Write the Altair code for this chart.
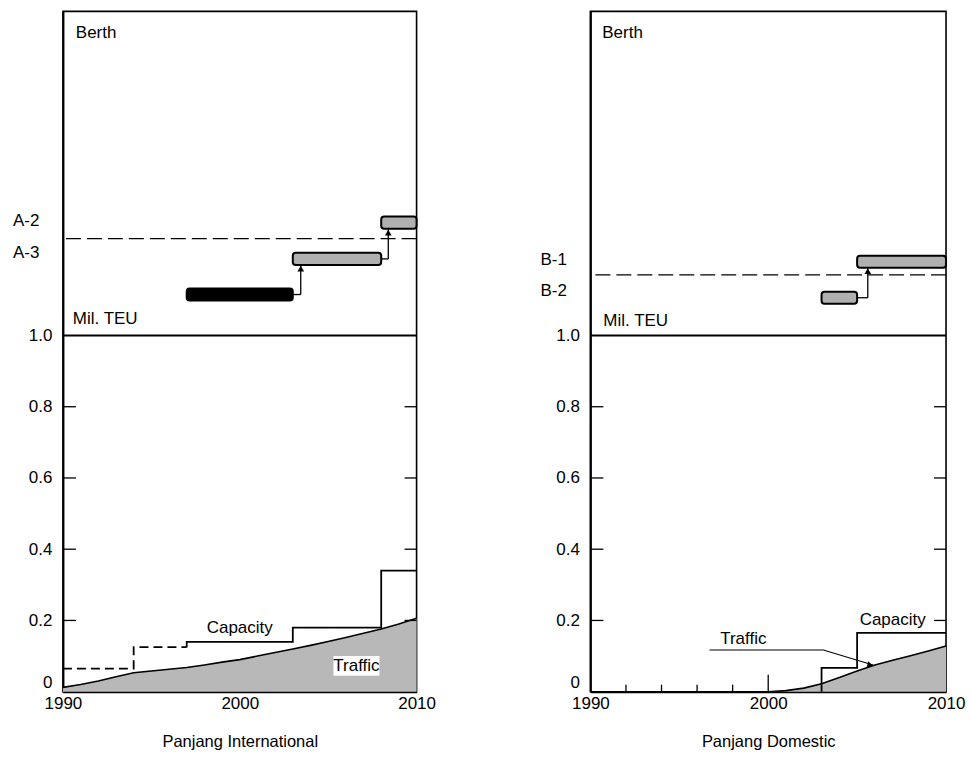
import altair as alt
import pandas as pd

FONT = "Liberation Sans, Arial, Helvetica, sans-serif"
HATCH = "#b8b8b8"
BAR_HATCH = "#b0b0b0"

# ---------------- Panjang International ----------------
intl_years = list(range(1990, 2011))
intl_traffic = [0.012, 0.02, 0.03, 0.042, 0.053, 0.058, 0.063, 0.068, 0.075, 0.083,
                0.09, 0.1, 0.11, 0.12, 0.13, 0.141, 0.152, 0.164, 0.176, 0.19, 0.206]
intl_cap_years = [1990, 1994, 1997, 1997, 1997, 2003, 2008, 2010]
intl_cap_values = [0.065, 0.125, 0.125, 0.125, 0.14, 0.18, 0.34, 0.34]
intl_cap_status = ["planned", "planned", "planned", "existing", "existing", "existing", "existing", "existing"]
intl_berth_names = ["", "A-3", "A-2"]
intl_berth_label_y = [None, 1.232, 1.322]
intl_berth_start = [1997, 2003, 2008]
intl_berth_end = [2003, 2008, 2010]
intl_berth_level = [1.115, 1.215, 1.317]
intl_berth_status = ["existing", "planned", "planned"]
intl_arrow_x = [2003.45, 2008.4]
intl_arrow_from = [1.115, 1.215]
intl_arrow_to = [1.199, 1.300]
intl_arrow_start = [2003, 2008]
intl_threshold = 1.272

# ---------------- Panjang Domestic ----------------
dom_years = list(range(2000, 2011))
dom_traffic = [0.0, 0.003, 0.01, 0.022, 0.04, 0.058, 0.075, 0.088, 0.101, 0.114, 0.128]
dom_cap_years = [2003, 2003, 2005, 2010]
dom_cap_values = [0.0, 0.067, 0.165, 0.165]
dom_cap_status = ["existing"] * 4
dom_berth_names = ["B-2", "B-1"]
dom_berth_label_y = [1.125, 1.212]
dom_berth_start = [2003, 2005]
dom_berth_end = [2005, 2010]
dom_berth_level = [1.106, 1.207]
dom_berth_status = ["planned", "planned"]
dom_arrow_x = [2005.6]
dom_arrow_from = [1.106]
dom_arrow_to = [1.192]
dom_arrow_start = [2005]
dom_threshold = 1.17

y_tick_values = [0.2, 0.4, 0.6, 0.8]
x_minor_ticks = [1992, 1994, 1996, 1998]

W_L, W_R, H = 354, 356, 681
YMAX = 1.91


def xenc(field, title=None):
    if title is not None:
        return alt.X(field, type="quantitative",
                     scale=alt.Scale(domain=[1990, 2010], nice=False, zero=False),
                     axis=alt.Axis(values=[1990, 2000, 2010], format="d", tickSize=0,
                                   domainWidth=2, domainColor="black", labelColor="black",
                                   labelFontSize=17, labelFont=FONT, labelPadding=4,
                                   labelOverlap=False, labelFlush=False, grid=False,
                                   title=title, titleFont=FONT, titleFontSize=16.5,
                                   titleFontWeight="normal", titleColor="black",
                                   titlePadding=22))
    return alt.X(field, type="quantitative")


def yenc(field, axis=False):
    if axis:
        return alt.Y(field, type="quantitative",
                     scale=alt.Scale(domain=[0, YMAX], nice=False),
                     axis=alt.Axis(values=[0, 0.2, 0.4, 0.6, 0.8, 1.0],
                                   labelExpr="datum.value == 0 ? '0' : format(datum.value, '.1f')",
                                   labelBaseline={"condition": {"test": "datum.value == 0",
                                                                "value": "bottom"},
                                                  "value": "middle"},
                                   tickSize=0, domainWidth=2, domainColor="black",
                                   labelColor="black", labelFontSize=17, labelFont=FONT,
                                   labelPadding=11, grid=False, title=None))
    return alt.Y(field, type="quantitative")


def panel(title, width, years, traffic, cap_years, cap_values, cap_status,
          b_names, b_label_y, b_start, b_end, b_level, b_status, a_x, a_from, a_to, a_start,
          threshold, bottom_ticks):
    tdf = pd.DataFrame({"year": years, "traffic": traffic})
    area = alt.Chart(tdf).mark_area(color=HATCH, opacity=1).encode(
        x=xenc("year", title), y=yenc("traffic", axis=True))
    tline = alt.Chart(tdf).mark_line(color="black", strokeWidth=1.6).encode(
        x=xenc("year"), y=yenc("traffic"))

    cdf = pd.DataFrame({"year": cap_years, "cap": cap_values, "status": cap_status,
                        "order": list(range(len(cap_years)))})
    cap = alt.Chart(cdf).mark_line(color="black", strokeWidth=1.8, interpolate="step-after").encode(
        x=xenc("year"), y=yenc("cap"), order="order:Q",
        detail="status:N",
        strokeDash=alt.StrokeDash("status:N", legend=None,
                                  scale=alt.Scale(domain=["planned", "existing"],
                                                  range=[[9, 5], [1, 0]])))

    bdf = pd.DataFrame({"name": b_names, "label_y": b_label_y, "start": b_start, "end": b_end,
                        "level": b_level, "status": b_status})
    bars = alt.Chart(bdf).transform_calculate(
        lo="datum.level - 0.017", hi="datum.level + 0.017"
    ).mark_rect(stroke="black", strokeWidth=2, cornerRadius=3).encode(
        x=xenc("start"), x2="end", y=yenc("lo"), y2="hi",
        fill=alt.Fill("status:N", legend=None,
                      scale=alt.Scale(domain=["existing", "planned"], range=["black", BAR_HATCH])))
    blabels = alt.Chart(bdf).transform_filter("datum.name != ''").mark_text(
        font=FONT, fontSize=17, align="left", baseline="middle", color="black"
    ).encode(x=alt.value(-50), y=yenc("label_y"), text="name:N")

    adf = pd.DataFrame({"x": a_x, "y0": a_from, "y1": a_to, "xs": a_start})
    a_h = alt.Chart(adf).mark_rule(color="black", strokeWidth=1.3).encode(
        x=xenc("xs"), x2="x", y=yenc("y0"))
    a_v = alt.Chart(adf).mark_rule(color="black", strokeWidth=1.3).encode(
        x=xenc("x"), y=yenc("y0"), y2="y1")
    a_head = alt.Chart(adf).mark_point(shape="triangle-up", filled=True, color="black",
                                        size=45, opacity=1, yOffset=4).encode(
        x=xenc("x"), y=yenc("y1"))

    thr = alt.Chart(pd.DataFrame({"v": [threshold]})).mark_rule(
        color="black", strokeWidth=1.3, strokeDash=[15, 6]).encode(y=yenc("v"))
    one = alt.Chart(pd.DataFrame({"v": [1.0]})).mark_rule(
        color="black", strokeWidth=1.8).encode(y=yenc("v"))

    tk = pd.DataFrame({"v": y_tick_values})
    lt = alt.Chart(tk).mark_rule(color="black", strokeWidth=1.3).encode(
        x=alt.value(0), x2=alt.value(13), y=yenc("v"))
    rt = alt.Chart(tk).mark_rule(color="black", strokeWidth=1.3).encode(
        x=alt.value(width - 12), x2=alt.value(width), y=yenc("v"))

    layers = [area, tline, cap, thr, one, a_h, a_v, a_head, bars, blabels, lt, rt]
    if bottom_ticks:
        bt = alt.Chart(pd.DataFrame({"year": x_minor_ticks})).mark_rule(
            color="black", strokeWidth=1.3).encode(
            x=xenc("year"), y=alt.value(H), y2=alt.value(H - 7))
        bt2 = alt.Chart(pd.DataFrame({"year": [2000]})).mark_rule(
            color="black", strokeWidth=1.3).encode(
            x=xenc("year"), y=alt.value(H), y2=alt.value(H - 17))
        layers += [bt, bt2]
    return layers


# in-panel text labels
intl_labels = pd.DataFrame({"x": [1990.73, 1990.56, 2000.0, 2006.6],
                            "y": [1.85, 1.045, 0.18, 0.073],
                            "t": ["Berth", "Mil. TEU", "Capacity", "Traffic"],
                            "al": ["left", "left", "center", "center"]})
dom_labels = pd.DataFrame({"x": [1990.67, 1990.73, 2007.0, 1998.6],
                           "y": [1.85, 1.04, 0.2, 0.148],
                           "t": ["Berth", "Mil. TEU", "Capacity", "Traffic"],
                           "al": ["left", "left", "center", "center"]})


def text_layers(ldf):
    out = []
    for al in ["left", "center"]:
        out.append(alt.Chart(ldf).transform_filter(f"datum.al == '{al}'").mark_text(
            font=FONT, fontSize=17, baseline="middle", align=al, color="black").encode(
            x=xenc("x"), y=yenc("y"), text="t:N"))
    return out


L_layers = panel("Panjang International", W_L, intl_years, intl_traffic,
                 intl_cap_years, intl_cap_values, intl_cap_status,
                 intl_berth_names, intl_berth_label_y, intl_berth_start, intl_berth_end,
                 intl_berth_level, intl_berth_status,
                 intl_arrow_x, intl_arrow_from, intl_arrow_to, intl_arrow_start,
                 intl_threshold, False)
# white box behind the "Traffic" label on the left panel
box = alt.Chart(pd.DataFrame({"x0": [2005.3], "x1": [2007.9], "y0": [0.045], "y1": [0.1]})).mark_rect(
    color="white").encode(x=xenc("x0"), x2="x1", y=yenc("y0"), y2="y1")
left = alt.layer(*(L_layers + [box] + text_layers(intl_labels))).properties(width=W_L, height=H)

R_layers = panel("Panjang Domestic", W_R, dom_years, dom_traffic,
                 dom_cap_years, dom_cap_values, dom_cap_status,
                 dom_berth_names, dom_berth_label_y, dom_berth_start, dom_berth_end,
                 dom_berth_level, dom_berth_status,
                 dom_arrow_x, dom_arrow_from, dom_arrow_to, dom_arrow_start,
                 dom_threshold, True)
# leader line from the "Traffic" label to the traffic area
leader_x = [1996.7, 2003.1, 2005.9]
leader_y = [0.117, 0.117, 0.075]
ldr = pd.DataFrame({"x": leader_x, "y": leader_y, "o": [0, 1, 2]})
leader = alt.Chart(ldr).mark_line(color="black", strokeWidth=1.1).encode(
    x=xenc("x"), y=yenc("y"), order="o:Q")
leader_head = alt.Chart(ldr.iloc[[2]]).mark_point(
    shape="triangle-right", angle=17, filled=True, color="black", size=40, opacity=1,
    xOffset=-3).encode(x=xenc("x"), y=yenc("y"))
right = alt.layer(*(R_layers + [leader, leader_head] + text_layers(dom_labels))).properties(
    width=W_R, height=H)

chart = alt.hconcat(left, right, spacing=174, bounds="flush").properties(
    padding={"left": 12, "top": 10, "right": 5, "bottom": 5},
    background="white"
).configure_view(stroke="black", strokeWidth=1.6)

chart.save("out.html", embed_options={"renderer": "svg", "actions": False})
